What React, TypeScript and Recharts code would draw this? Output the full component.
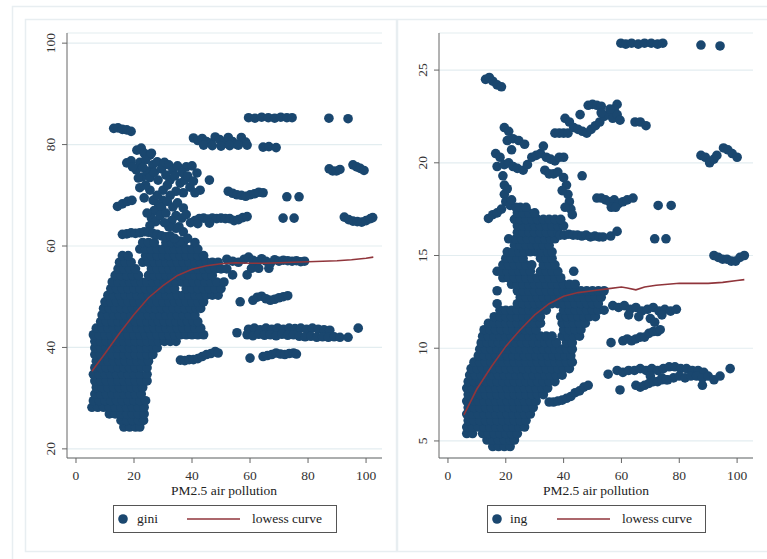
import React from 'react';
import { ScatterChart, Scatter, XAxis, YAxis, CartesianGrid } from 'recharts';

const NAVY = '#1a476f';
const MAROON = '#90353b';
const FONT = 'Liberation Serif, Times New Roman, DejaVu Serif, serif';

const xTicks = [0, 20, 40, 60, 80, 100];
const giniTicks = [20, 40, 60, 80, 100];
const ingTicks = [5, 10, 15, 20, 25];
const xTitle = 'PM2.5 air pollution';
const giniName = 'gini';
const ingName = 'ing';
const lowessName = 'lowess curve';

// dense cloud of gini: each row = [y, x1, x2, ...]
const giniRows: number[][] = [
  [24.3, 16.5, 18.5, 20.5, 22],
  [25.6, 15.5, 17.5, 19.5, 21.5, 23.3],
  [26.9, 11.5, 13.5, 15.5, 17.5, 19.5, 21.5, 23.5],
  [28.2, 5.5, 7.5, 9.5, 11.5, 13.5, 15.5, 17.5, 19.5, 21.5, 23.5],
  [29.5, 6, 8, 10, 12, 14, 16, 18, 20, 22, 24],
  [30.8, 6.5, 8.5, 10.5, 12.5, 14.5, 16.5, 18.5, 20.5, 22.5],
  [32.1, 7, 9, 11, 13, 15, 17, 19, 21, 23],
  [33.4, 6.5, 8.5, 10.5, 12.5, 14.5, 16.5, 18.5, 20.5, 22.5, 24.5],
  [34.7, 6, 8, 10, 12, 14, 16, 18, 20, 22, 24.5],
  [36.0, 6.5, 8.5, 10.5, 12.5, 14.5, 16.5, 18.5, 20.5, 22.5, 24.5],
  [37.3, 7, 9, 11, 13, 15, 17, 19, 21, 23, 25],
  [38.6, 6.5, 8.5, 10.5, 12.5, 14.5, 16.5, 18.5, 20.5, 22.5, 24.5, 26.5],
  [39.9, 6.5, 8.5, 10.5, 12.5, 14.5, 16.5, 18.5, 20.5, 22.5, 24.5, 26.5, 28],
  [41.2, 6.5, 8.5, 10.5, 12.5, 14.5, 16.5, 18.5, 20.5, 22.5, 24.5, 26.5, 28.5, 30.5, 32.5, 34.5],
  [42.5, 6, 8, 10, 12, 14, 16, 18, 20, 22, 24, 26, 28, 30, 32, 34, 36, 38, 40, 42, 44],
  [43.8, 7, 9, 11, 13, 15, 17, 19, 21, 23, 25, 27, 29, 31, 33, 35, 37, 39, 41, 43],
  [45.1, 8.5, 10.5, 12.5, 14.5, 16.5, 18.5, 20.5, 22.5, 24.5, 26.5, 28.5, 30.5, 32.5, 34.5, 36.5, 38.5, 40.5, 42],
  [46.4, 9, 11, 13, 15, 17, 19, 21, 23, 25, 27, 29, 31, 33, 35, 37, 39, 41],
  [47.7, 9.5, 11.5, 13.5, 15.5, 17.5, 19.5, 21.5, 23.5, 25.5, 27.5, 29.5, 31.5, 33.5, 35.5, 37.5, 39.5, 41.5, 43],
  [49.0, 10, 12, 14, 16, 18, 20, 22, 24, 26, 28, 30, 32, 34, 36, 38, 40, 42, 44],
  [50.3, 11, 13, 15, 17, 19, 21, 23, 25, 27, 29, 31, 33, 35, 37, 39, 41, 43, 45, 47, 49],
  [51.6, 12, 14, 16, 18, 20, 22, 24, 26, 28, 30, 32, 34, 38, 40, 42, 44, 46, 48, 50],
  [52.9, 12.5, 14.5, 16.5, 18.5, 20.5, 22.5, 24.5, 26.5, 28.5, 30.5, 32.5, 34.5, 36.5, 38.5, 40.5, 42.5, 44.5, 46.5, 48.5, 51],
  [54.2, 13.5, 15.5, 17.5, 19.5, 21.5, 25, 27, 29, 31, 33, 35, 37, 39, 41, 43, 45, 47],
  [55.5, 14.5, 16.5, 18.5, 20.5, 26, 28, 30, 32, 34, 36, 38, 40, 42, 44, 46, 48, 50, 52],
  [56.8, 15, 17, 19, 23, 25, 27, 29, 31, 33, 35, 37, 39, 41, 43, 45, 47, 49],
  [58.1, 16, 18, 24, 26, 28, 30, 32, 34, 36, 38, 40, 42, 44],
  [59.4, 22, 24, 26, 28, 30, 32, 34, 36, 38, 40, 42],
  [60.7, 23, 25, 27, 31, 33, 35, 37, 41],
];

// scattered gini points: [x, y]
const giniPts: number[][] = [
  [59.5, 85.3], [61.7, 85.2], [64, 85.4], [66.3, 85.3], [68.5, 85.2], [70.6, 85.4], [72.7, 85.3], [74.5, 85.3], [87.2, 85.2], [93.8, 85.1],
  [13, 83.2], [14.5, 83.3], [16, 83.0], [17.5, 82.9], [19, 82.6],
  [40.5, 81.3], [42, 80.8], [43.5, 81.2], [45, 80.6], [46.5, 80.3], [48, 81.5], [49.5, 81.0], [51, 80.2], [52.5, 81.4], [54, 80.6], [55.5, 80.0], [57, 81.4], [58.5, 80.5],
  [44, 79.9], [47, 79.8], [50, 79.7], [53, 79.8], [56, 79.9], [59, 79.9], [64.5, 79.5], [66.5, 79.6], [69, 79.4],
  [21, 78.9], [22.5, 79.3], [23.5, 78.3], [25.5, 77.9], [17.5, 76.4], [19, 76.8], [20.8, 75], [22, 76.5], [26.5, 76], [28, 76.6], [22.8, 73.6], [24.5, 74.8], [21.5, 73.4], [19.5, 75.6],
  [24, 77], [26, 78.3], [23, 75.5], [25.5, 73.5], [27, 74.5], [29.5, 75.2], [31, 74], [30.5, 76.5], [32, 76],
  [33.4, 75], [35, 75.8], [38, 75.6], [40, 75.8], [41.7, 74.4], [32.4, 73], [34, 73.8], [35.9, 72.4], [37.5, 73], [39.3, 71.6], [42.8, 71], [30, 71], [31.5, 72], [28.3, 73],
  [36.5, 74.5], [38.5, 73.8], [40.5, 72.8], [41, 70.5], [37, 70.5], [34.5, 70.8], [32.5, 70], [30, 69], [28.5, 68.2], [27, 67],
  [26.6, 69], [28, 70], [25.5, 71], [33.4, 67.7], [35, 68.5], [37, 67.5], [29.5, 67.6], [31.5, 68.8], [24, 72], [46, 73],
  [26, 65.5], [27.5, 64.8], [29, 66], [31, 66.5], [34.5, 66], [36.5, 65.5], [38, 66.2], [35.5, 63.8], [37, 62.8], [36, 61], [38.5, 61.5],
  [24.5, 66.5], [25.5, 64], [23.5, 69.5], [22, 71.5],
  [52.5, 70.8], [54, 70.4], [55.5, 70.1], [57, 70.0], [58.5, 69.8], [60, 70.1], [61.5, 70.3], [63, 70.6], [64.5, 70.5], [72.7, 69.7], [76.9, 69.7],
  [14.3, 67.8], [16, 68.3], [17.8, 68.8], [19.3, 69.0],
  [39.5, 64.6], [41, 65.0], [42.5, 65.4], [44, 65.5], [45.5, 65.3], [47, 65.5], [48.5, 65.4], [50, 65.5], [51.5, 65.4], [53, 65.4], [54.5, 65.0], [56, 65.2], [57.5, 65.6], [59, 65.8], [42, 64.4], [46, 64.5], [71.4, 65.5], [75.2, 65.5],
  [92.5, 65.7], [94, 65.2], [95.5, 64.9], [97, 64.8], [98.5, 64.7], [100, 65.0], [101.5, 65.4], [102.3, 65.6],
  [87.3, 75.2], [88.5, 74.8], [89.8, 74.8], [91, 75.1], [95.5, 76.0], [96.8, 75.6], [98, 75.3], [99.3, 74.9],
  [16, 62.3], [17.5, 62.4], [19, 62.6], [20.5, 62.5], [22, 62.6], [23.5, 62.8], [25, 62.7], [26.5, 62.5], [28, 62.3], [29.5, 62.0], [31, 61.8], [32.5, 62.0], [34, 61.5], [33, 65], [34.5, 63.5], [32, 63.8], [30.5, 64.6],
  [52, 57.4], [54, 57.0], [56, 56.8], [58, 57.4], [59.5, 57.8], [61, 57.2], [62.5, 56.9], [64, 57.5], [65.5, 57.0], [67, 56.6], [68.5, 57.3], [70, 57.0], [71.5, 57.2], [73, 57.1], [74.5, 57.0], [76, 57.1], [77.5, 56.9], [78.8, 57.0],
  [60.5, 55.6], [63, 55.6], [66.5, 55.6], [54, 54.3], [59, 54.3],
  [56.6, 49.0], [61, 49.3], [62.5, 49.9], [64, 50.1], [65.5, 49.6], [67, 49.3], [68.5, 49.5], [70, 49.8], [71.5, 50.0], [73, 50.2],
  [55.5, 42.9], [59.5, 43.6], [61.5, 43.8], [63.5, 43.5], [65.5, 43.8], [67.5, 43.6], [69.5, 43.8], [71.5, 43.6], [73.5, 43.8], [75.5, 43.7], [77.5, 43.8], [79.5, 43.6], [81.5, 43.8], [83.5, 43.6], [85.5, 43.5], [87.5, 43.4],
  [59, 42.5], [61, 42.3], [63, 42.6], [65, 42.4], [67, 42.5], [69, 42.3], [71, 42.6], [73, 42.4], [75, 42.5], [77, 42.2], [79, 42.1], [81, 42.2], [83, 42.0], [85, 42.1], [87, 42.0], [89, 42.1], [91, 42.0], [93.8, 42.0], [97.3, 43.8],
  [60, 37.9], [64.5, 38.2], [66, 38.4], [67.5, 38.6], [69, 38.9], [70.5, 38.7], [72, 38.6], [73.5, 38.8], [75, 38.9], [76, 38.7],
  [36, 37.5], [37.5, 37.4], [39, 37.6], [40.5, 37.6], [42, 37.8], [43.5, 38.2], [45, 38.6], [46.5, 38.8], [48, 39.2], [49, 38.9],
];

const giniLowessX = [5.5, 10, 15, 20, 25, 30, 35, 40, 45, 50, 55, 60, 65, 70, 75, 80, 85, 90, 95, 100, 102.5];
const giniLowessY = [35.3, 38.8, 42.8, 46.5, 49.8, 52.2, 54.2, 55.4, 56.1, 56.5, 56.7, 56.6, 56.6, 56.7, 56.8, 56.9, 57.0, 57.1, 57.3, 57.6, 57.8];

// dense cloud of ing: each row = [y, x1, x2, ...]
const ingRows: number[][] = [
  [4.7, 15.5, 17.5, 19.5, 21.5],
  [5.05, 13.5, 15.5, 17.5, 19.5, 21.5, 23],
  [5.4, 6.5, 8.5, 12, 14, 16, 18, 20, 22, 24],
  [5.75, 6.5, 8.5, 10.5, 12.5, 14.5, 16.5, 18.5, 20.5, 22.5, 24.5, 26.5],
  [6.1, 7, 9, 11, 13, 15, 17, 19, 21, 23, 25, 27],
  [6.45, 6.5, 8.5, 10.5, 12.5, 14.5, 16.5, 18.5, 20.5, 22.5, 24.5, 26.5, 28.5],
  [6.8, 7, 9, 11, 13, 15, 17, 19, 21, 23, 25, 27, 29.5],
  [7.15, 6.5, 8.5, 10.5, 12.5, 14.5, 16.5, 18.5, 20.5, 22.5, 24.5, 26.5, 28.5, 30.5],
  [7.5, 7, 9, 11, 13, 15, 17, 19, 21, 23, 25, 27, 29, 31, 33],
  [7.85, 6.5, 8.5, 10.5, 12.5, 14.5, 16.5, 18.5, 20.5, 22.5, 24.5, 26.5, 28.5, 30.5, 32.5, 34.5],
  [8.2, 7, 9, 11, 13, 15, 17, 19, 21, 23, 25, 27, 29, 31, 33, 35, 37],
  [8.55, 7.5, 9.5, 11.5, 13.5, 15.5, 17.5, 19.5, 21.5, 23.5, 25.5, 27.5, 29.5, 31.5, 33.5, 35.5, 37.5, 39.5],
  [8.9, 8, 10, 12, 14, 16, 18, 20, 22, 24, 26, 28, 30, 32, 34, 36, 38, 40, 42],
  [9.25, 9, 11, 13, 15, 17, 19, 21, 23, 25, 27, 29, 31, 33, 35, 37, 39, 41, 43],
  [9.6, 10.5, 12.5, 14.5, 16.5, 18.5, 20.5, 22.5, 24.5, 26.5, 28.5, 30.5, 32.5, 34.5, 36.5, 38.5, 40.5, 42.5],
  [9.95, 11, 13, 15, 17, 19, 21, 23, 25, 27, 29, 31, 33, 35, 37, 39, 41, 43],
  [10.3, 11.5, 13.5, 15.5, 17.5, 19.5, 21.5, 23.5, 25.5, 27.5, 29.5, 31.5, 33.5, 35.5, 37.5, 41, 43],
  [10.65, 12, 14, 16, 18, 20, 22, 24, 26, 28, 30, 32, 34, 36, 39.5, 41.5, 43.5, 45.5],
  [11.0, 12.5, 14.5, 16.5, 18.5, 20.5, 22.5, 24.5, 26.5, 28.5, 30.5, 40, 42, 44, 46],
  [11.35, 14, 16, 18, 20, 22, 24, 26, 28, 30, 32, 39.5, 41.5, 43.5, 45.5, 47.5],
  [11.7, 16, 18, 20, 22, 24, 26, 28, 30, 32, 39, 41, 43, 45, 47, 49, 51],
  [12.05, 18, 20, 22, 24, 26, 28, 30, 32, 34, 40, 42, 44, 46, 48, 50, 52, 54],
  [12.4, 17, 24, 26, 28, 30, 32, 34, 36, 38, 40, 42, 44, 46, 48, 50, 52],
  [12.75, 25, 27, 29, 31, 33, 35, 37, 39, 41, 43, 45, 47, 49, 51, 53],
  [13.1, 17, 24, 26, 28, 30, 32, 34, 36, 38, 40, 42, 44, 46, 48, 50, 52, 54],
  [13.45, 22, 24, 26, 28, 30, 32, 34, 36, 38, 40, 42, 44],
  [13.8, 19, 21, 23, 25, 27, 29, 31, 33, 35, 37, 39],
  [14.15, 17, 18.5, 20.5, 22.5, 24.5, 26.5, 28.5, 32, 34, 36, 38, 43.5],
  [14.5, 19, 21, 23, 25, 27, 29, 33, 35, 37],
  [14.85, 20, 22, 24, 26, 32, 34, 36],
  [15.2, 20.5, 22.5, 24.5, 26.5, 28.5, 30.5, 32.5, 34.5, 36],
  [15.55, 23, 25, 27, 29, 31, 33, 35],
  [15.9, 21, 23.5, 25.5, 27.5, 29.5, 31.5, 33.5, 35.5, 37],
  [16.25, 24, 26, 28, 30, 32, 34, 36, 38],
  [16.6, 24, 26, 28, 30, 32, 34, 36, 38, 40],
  [16.95, 23, 25, 27, 29, 31, 33, 35, 37, 39],
  [17.3, 24, 26, 28, 30],
  [17.6, 25, 27],
];

// scattered ing points: [x, y]
const ingPts: number[][] = [
  [59.8, 26.45], [61.5, 26.4], [63.5, 26.45], [65.8, 26.4], [68, 26.45], [70.3, 26.45], [72.5, 26.4], [74.3, 26.45], [87.5, 26.35], [94.1, 26.3],
  [13, 24.5], [14.3, 24.6], [15.5, 24.4], [17, 24.2], [18.5, 24.1],
  [48.5, 23.1], [50, 23.15], [51.5, 23.1], [53, 23.05], [58.5, 23.15], [57.5, 22.9],
  [40.5, 22.4], [42, 22.2], [43.5, 21.9], [45, 21.8], [46.5, 21.7], [48, 21.6], [49.5, 21.8], [51, 22.0], [52.5, 22.2], [54, 22.5], [55.5, 22.6], [57, 22.4], [58.5, 22.6], [59.5, 22.3], [45.7, 22.6], [53, 22.7], [56, 22.9],
  [64.7, 22.2], [66.5, 22.2], [68.5, 22.0],
  [37, 21.6], [38.5, 21.6], [40, 21.6], [41.5, 21.6],
  [19.5, 21.9], [21, 21.7], [22.5, 21.3], [24.5, 21.2], [26.5, 21.0], [20.5, 21.2], [22, 20.7],
  [16.5, 20.5], [18, 20.3], [17, 19.8], [19.5, 19.9], [21, 20.0], [22.5, 19.8], [24, 19.7], [26, 19.6], [27.5, 19.9],
  [29, 20.3], [30.5, 20.4], [32, 20.5], [33, 20.9], [34, 20.3], [35.5, 20.2], [37, 20.1], [38.5, 20.3], [40, 20.3], [33.5, 19.6], [35, 19.4], [36.5, 19.4], [38, 19.5], [46.4, 19.3],
  [87.5, 20.4], [89, 20.3], [90.5, 20.0], [92, 20.2], [93, 20.4], [95.3, 20.8], [96.8, 20.7], [98.3, 20.5], [100, 20.3],
  [19, 19.3], [19.5, 18.8], [19.5, 18.3], [20, 17.9], [21.5, 17.7], [23.5, 17.6], [22, 18.0], [20.5, 18.6],
  [40, 19.2], [41, 18.8], [41.5, 18.3], [42, 17.9], [42.5, 17.5], [43, 17.2], [39.5, 18.5], [40.5, 17.6],
  [14, 17.0], [15.5, 17.2], [17, 17.3], [18.5, 17.5],
  [51.5, 18.1], [53, 18.1], [54.5, 18.0], [56, 17.9], [57.5, 18.0], [59, 17.8], [60.5, 17.9], [62, 18.0], [64, 18.1], [56.5, 17.6], [58, 17.6], [72.7, 17.7], [77.2, 17.7],
  [38.8, 16.1], [40.3, 16.1], [41.8, 16.15], [43.3, 16.1], [44.8, 16.1], [46.3, 16.05], [47.8, 16.1], [49.3, 16.0], [50.8, 16.05], [52.3, 16.0], [53.6, 16.0], [56.3, 16.05], [58.5, 16.3], [71.5, 15.9], [75.4, 15.9],
  [92, 15.0], [93.5, 14.9], [95, 14.8], [96.5, 14.8], [98, 14.7], [99.5, 14.7], [101, 14.9], [102.5, 15.0],
  [57, 12.3], [59, 12.2], [61, 12.3], [63, 12.1], [65, 12.2], [67, 12.0], [69, 12.1], [71, 12.2], [73, 12.0], [75, 12.1], [77, 12.0], [79, 12.1],
  [62.5, 11.8], [66, 11.7], [70, 11.6], [74, 11.8], [71.5, 11.4],
  [56.4, 10.3], [60.5, 10.4], [62, 10.5], [63.5, 10.4], [65, 10.5], [66.5, 10.6], [68, 10.6], [69.5, 10.8], [71, 10.9], [72.5, 10.9], [73.4, 11.0],
  [55.4, 8.6], [58.5, 8.8], [60.5, 8.7], [62.5, 8.8], [64.5, 8.8], [66.5, 8.9], [68.5, 8.8], [70.5, 8.9], [72.5, 8.8], [74.5, 8.9], [76.5, 9.0], [78.5, 9.0], [80.5, 8.9], [82.5, 8.9], [84.5, 8.8], [86.5, 8.8], [88.5, 8.7],
  [70, 8.5], [74, 8.4], [76, 8.3], [78, 8.4], [80, 8.5], [82, 8.4], [84, 8.5], [86, 8.5], [88, 8.4], [90, 8.5], [92, 8.3], [94.1, 8.5], [97.6, 8.9],
  [59.5, 7.75], [65, 8.0], [66.5, 7.9], [68, 8.0], [69.5, 8.1], [71, 8.2], [72.5, 8.2], [74, 8.3], [75.5, 8.3], [88, 8.0],
  [35, 7.1], [36.5, 7.1], [38, 7.15], [39.5, 7.2], [41, 7.3], [42.5, 7.4], [44, 7.6], [45.5, 7.7], [47, 7.9], [48.5, 8.0],
];

const ingLowessX = [5.5, 10, 15, 20, 25, 30, 35, 40, 45, 50, 55, 60, 62, 65, 68, 72, 80, 90, 95, 100, 102.5];
const ingLowessY = [6.4, 7.8, 9.0, 10.1, 11.0, 11.8, 12.4, 12.8, 13.0, 13.1, 13.2, 13.3, 13.25, 13.15, 13.3, 13.4, 13.5, 13.5, 13.55, 13.65, 13.7];

type P = { x: number; y: number };

function cloud(rows: number[][], pts: number[][]): P[] {
  const out: P[] = [];
  rows.forEach((r) => {
    const y = r[0];
    r.slice(1).forEach((x) => out.push({ x, y }));
  });
  pts.forEach((p) => out.push({ x: p[0], y: p[1] }));
  return out;
}

function curve(xs: number[], ys: number[]): P[] {
  return xs.map((x, i) => ({ x, y: ys[i] }));
}

const giniData = cloud(giniRows, giniPts);
const ingData = cloud(ingRows, ingPts);
const giniLowess = curve(giniLowessX, giniLowessY);
const ingLowess = curve(ingLowessX, ingLowessY);

const textStyle = { fontFamily: FONT, fontSize: 13.5 };

const Dot = (props: any) => <circle cx={props.cx} cy={props.cy} r={4.8} fill={NAVY} />;
const NoDot = () => <g />;

const YTick = (props: any) => {
  const { y, payload } = props;
  return (
    <text x={50} y={y} transform={`rotate(-90 50 ${y})`} textAnchor="middle" dy="0.35em"
      style={textStyle} fill="#333">{payload.value}</text>
  );
};

const XTick = (props: any) => {
  const { x, y, payload } = props;
  return (
    <text x={x} y={y + 15} textAnchor="middle" style={textStyle} fill="#333">{payload.value}</text>
  );
};

function Panel(props: { left: number; width: number; data: P[]; lowess: P[]; ticks: number[]; domain: number[] }) {
  const { left, width, data, lowess, ticks, domain } = props;
  return (
    <div style={{ position: 'absolute', left, top: 0 }}>
      <ScatterChart width={width} height={500} margin={{ top: 33, right: 10, bottom: 12, left: 37 }}>
        <CartesianGrid horizontal vertical={false} stroke="#e3edf0" strokeWidth={1.2} />
        <XAxis type="number" dataKey="x" domain={[-3.1, 105.5]} ticks={xTicks} height={30}
          stroke="#666" tickSize={5} tick={<XTick />} allowDataOverflow interval={0} />
        <YAxis type="number" dataKey="y" domain={domain} ticks={ticks} width={30}
          stroke="#666" tickSize={5} tick={<YTick />} allowDataOverflow interval={0} />
        <Scatter data={data} shape={<Dot />} isAnimationActive={false} />
        <Scatter data={lowess} shape={<NoDot />} line={{ stroke: MAROON, strokeWidth: 1.6 }} isAnimationActive={false} />
      </ScatterChart>
    </div>
  );
}

function Legend(props: { x: number; w: number; name: string; lineX: number; textX: number; nameX: number }) {
  const { x, w, name, lineX, textX, nameX } = props;
  return (
    <g>
      <rect x={x + 0.5} y={505.5} width={w} height={27} fill="#fff" stroke="#555" strokeWidth={1} />
      <circle cx={x + 10} cy={519} r={4.8} fill={NAVY} />
      <text x={nameX} y={523} style={textStyle} fill="#222">{name}</text>
      <line x1={lineX} x2={lineX + 53} y1={519} y2={519} stroke={MAROON} strokeWidth={1.6} />
      <text x={textX} y={523} style={textStyle} fill="#222">{lowessName}</text>
    </g>
  );
}

export default function App() {
  return (
    <div style={{ position: 'absolute', left: 0, top: 0, width: 767, height: 559, background: '#fff', overflow: 'hidden' }}>
      <svg width={767} height={559} style={{ position: 'absolute', left: 0, top: 0 }}>
        <rect x={12.5} y={6.5} width={770} height={570} fill="none" stroke="#e8eef1" strokeWidth={1.5} />
        <rect x={25.5} y={19.5} width={371} height={532} fill="none" stroke="#e8eef1" strokeWidth={1.5} />
        <rect x={397.5} y={19.5} width={380} height={532} fill="none" stroke="#e8eef1" strokeWidth={1.5} />
        <text x={224} y={495} textAnchor="middle" style={textStyle} fill="#222">{xTitle}</text>
        <text x={596} y={495} textAnchor="middle" style={textStyle} fill="#222">{xTitle}</text>
        <Legend x={113} w={223} name={giniName} nameX={137} lineX={187} textX={252} />
        <Legend x={487} w={218} name={ingName} nameX={510} lineX={557} textX={622} />
      </svg>
      <Panel left={0} width={392} data={giniData} lowess={giniLowess} ticks={giniTicks} domain={[18.2, 102]} />
      <Panel left={372} width={391} data={ingData} lowess={ingLowess} ticks={ingTicks} domain={[4.08, 27.0]} />
    </div>
  );
}
